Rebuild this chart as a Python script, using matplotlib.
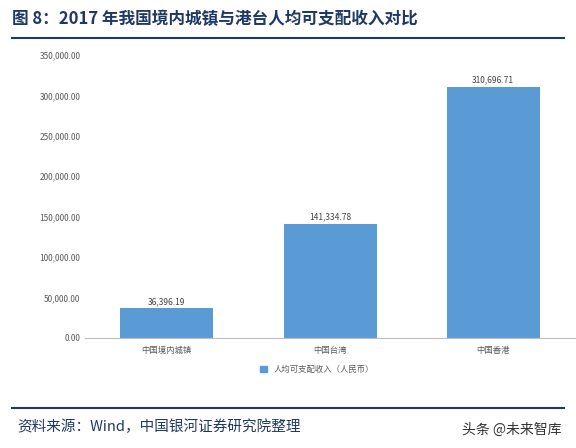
import matplotlib.pyplot as plt
from matplotlib.patches import Patch

plt.rcParams['font.family'] = ['Noto Sans CJK SC', 'DejaVu Sans']

regions = ['中国境内城镇', '中国台湾', '中国香港']
income = [36396.19, 141334.78, 310696.71]
yticks = [0, 50000, 100000, 150000, 200000, 250000, 300000, 350000]

fig = plt.figure(figsize=(5.76, 4.48), dpi=100)
ax = fig.add_axes([0.148, 0.246, 0.85, 0.631])

bars = ax.bar(regions, income, width=0.57, color='#5B9BD5')
for b, v in zip(bars, income):
    ax.text(b.get_x() + b.get_width() / 2, v + 3000, f'{v:,.2f}',
            ha='center', va='bottom', fontsize=6, color='#404040')

ax.set_ylim(0, 350000)
ax.set_yticks(yticks)
ax.set_yticklabels([f'{t:,.2f}' for t in yticks])
ax.tick_params(axis='both', length=0, labelsize=6, colors='#595959')
ax.tick_params(axis='x', pad=6)
for s in ['top', 'right', 'left']:
    ax.spines[s].set_visible(False)
ax.spines['bottom'].set_color('#BFBFBF')
ax.set_xlim(-0.5, 2.5)

fig.legend(handles=[Patch(color='#5B9BD5', label='人均可支配收入（人民币）')],
           loc='center', bbox_to_anchor=(0.55, 0.175), frameon=False,
           fontsize=6, handlelength=0.8, handleheight=0.8, labelcolor='#595959')

fig.text(0.02, 0.958, '图 8：2017 年我国境内城镇与港台人均可支配收入对比',
         fontsize=12, fontweight='bold', color='#1F3864', va='center')
fig.add_artist(plt.Line2D([0.02, 0.98], [0.915, 0.915], color='#1F3864', lw=1.5))
fig.add_artist(plt.Line2D([0.02, 0.98], [0.09, 0.09], color='#1F3864', lw=1.5))
fig.text(0.03, 0.048, '资料来源：Wind，中国银河证券研究院整理',
         fontsize=10.5, style='italic', color='#1F3864', va='center')
fig.text(0.975, 0.04, '头条 @未来智库', fontsize=10, color='#333333',
         ha='right', va='center')

fig.savefig('out.png', dpi=100)
